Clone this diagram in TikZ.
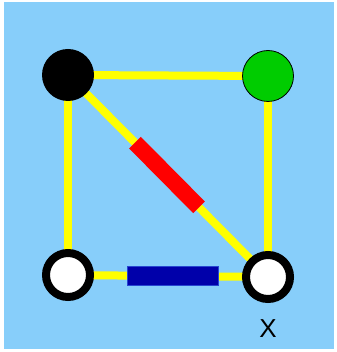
\documentclass[tikz,border=0pt]{standalone}
\usepackage{fontspec}
\setmainfont{Liberation Sans}
\usetikzlibrary{calc,backgrounds}
\definecolor{skyback}{RGB}{135,206,250}
\definecolor{edgeyellow}{RGB}{255,255,0}
\definecolor{dotgreen}{RGB}{0,204,0}
\definecolor{bardarkblue}{RGB}{0,0,170}
\definecolor{barrim}{RGB}{40,70,210}
\tikzset{
  vertex/.style={circle,inner sep=0pt,minimum size=52pt},
  ringvertex/.style={circle,inner sep=0pt,minimum size=44pt,line width=8pt,draw=black,fill=white},
  edge/.style={edgeyellow,line width=8pt},
}
\begin{document}
\begin{tikzpicture}[x=1pt,y=-1pt]
		\useasboundingbox (0,0) rectangle (336,352);
		% corners of the square
		\node[vertex,fill=black] (tl) at (68,75) {};
		\node[vertex,fill=dotgreen,draw=black,line width=0.8pt,minimum size=51pt] (tr) at (268,76) {};
		\node[ringvertex] (bl) at (68,275) {};
		\node[ringvertex] (br) at (268,277) {};
		\node[font=\fontsize{26}{26}\selectfont] (lbl) at (268,329) {X};
		\begin{scope}[on background layer]
			\fill[skyback] (4,2) rectangle (334,349);
			\draw[edge] (tl.center) -- (tr.center);
			\draw[edge] (tl.center) -- (bl.center);
			\draw[edge] (tr.center) -- (br.center);
			\draw[edge] (bl.center) -- (br.center);
			\draw[edge] (tl.center) -- (br.center);
			% bars on the edges
			\draw[red,line width=16.5pt] ($(tl.center)!0.335!(br.center)$) -- ($(tl.center)!0.655!(br.center)$);
			\draw[fill=bardarkblue,draw=barrim,line width=0.8pt] ($(bl.center)!0.295!(br.center)+(0,-9)$) rectangle ($(bl.center)!0.75!(br.center)+(0,9)$);
		\end{scope}
			\end{tikzpicture}
\end{document}
